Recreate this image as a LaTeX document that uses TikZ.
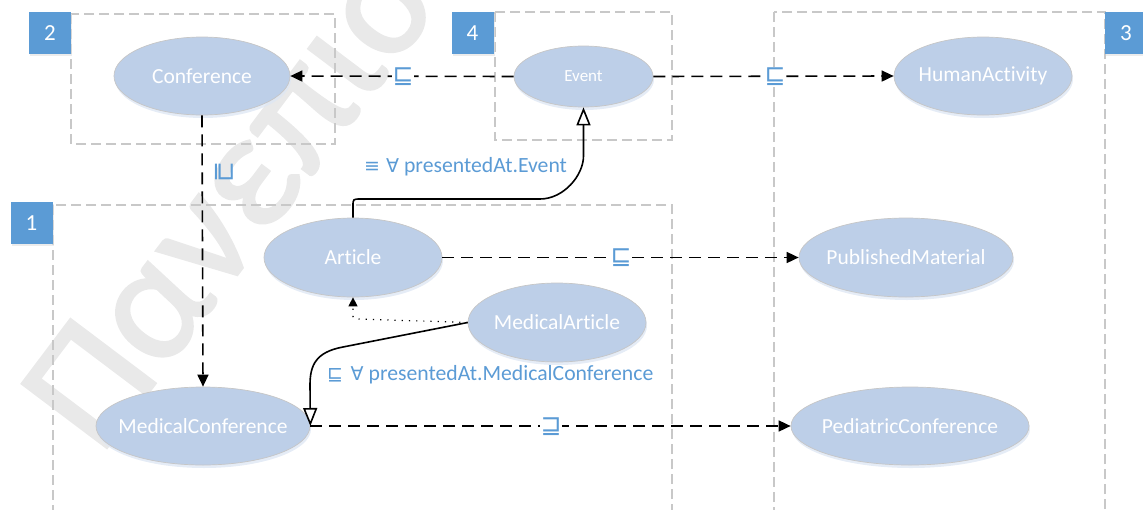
\documentclass[tikz,border=0pt]{standalone}
\usepackage{fontspec}
\setmainfont{Carlito}[Ligatures=NoCommon]
\newfontfamily\symfont{DejaVu Sans}
\newfontfamily\wmfont{Carlito}[FakeBold=1.5]
\usetikzlibrary{shapes.geometric,arrows.meta,shadows}

\definecolor{classfill}{RGB}{189,207,232}
\definecolor{classline}{RGB}{198,198,198}
\definecolor{classshadow}{RGB}{222,231,244}
\definecolor{badgeblue}{RGB}{91,155,213}
\definecolor{labelblue}{RGB}{91,155,213}
\definecolor{groupline}{RGB}{200,200,200}
\definecolor{wmgray}{RGB}{233,233,233}

\newcommand{\cname}[1]{\makebox[0pt]{#1}}

\tikzset{
  classnode/.style={ellipse, inner sep=0pt, fill=classfill, draw=classline, line width=0.7pt,
    text=white, font=\fontsize{21.5}{24}\selectfont,
    drop shadow={fill=classshadow, opacity=0.8, shadow xshift=1pt, shadow yshift=-3pt}},
  badge/.style={rectangle, inner sep=0pt, minimum width=42pt, minimum height=42pt,
    fill=badgeblue, text=white, font=\fontsize{23}{25}\selectfont,
    drop shadow={fill=black!12, opacity=0.6, shadow xshift=1pt, shadow yshift=-2pt}},
  groupbox/.style={draw=groupline, line width=1.3pt, dash pattern=on 10pt off 5pt},
  subarrow/.style={line width=1.6pt, dash pattern=on 12pt off 7pt,
    -{Triangle[length=12pt,width=11pt]}},
  restrarrow/.style={line width=1.6pt, -{Triangle[open,length=18pt,width=14pt,fill=white]}},
  instarrow/.style={line width=1.2pt, dash pattern=on 1.2pt off 6pt,
    -{Triangle[length=9pt,width=9pt]}},
  relsym/.style={text=labelblue, font=\symfont\fontsize{25}{27}\selectfont, inner sep=0.5pt},
  rellabel/.style={text=labelblue, font=\fontsize{21.7}{24}\selectfont, inner sep=0pt}
}

\begin{document}
\begin{tikzpicture}[x=1pt,y=-1pt]
\useasboundingbox (0,0) rectangle (1143,509);
\clip (0,0) rectangle (1143,509);

% watermark
\node[anchor=base west, rotate=53, text=wmgray, inner sep=0pt,
      font=\wmfont\fontsize{166}{166}\selectfont] (wm) at (100,457) {Πανεπιστήμιο};

% ontology modules
\draw[groupbox] (71,14) rectangle (335,144);
\draw[groupbox] (495,12) rectangle (672,140);
\draw[groupbox] (774,12) rectangle (1105,530);
\draw[groupbox] (53,205) rectangle (672,530);

\node[badge] (b2) at (50,33) {2};
\node[badge] (b4) at (472.5,33) {4};
\node[badge] (b3) at (1126,33) {3};
\node[badge] (b1) at (31.5,223) {1};

% classes
\node[classnode, minimum width=176pt, minimum height=78pt] (conf) at (202,76) {\cname{Conference}};
\node[classnode, minimum width=139pt, minimum height=61pt, font=\fontsize{17}{20}\selectfont] (ev) at (583.5,76.5) {\cname{Event}};
\node[classnode, minimum width=178pt, minimum height=78pt] (ha) at (983,76) {\cname{HumanActivity}};
\node[classnode, minimum width=178pt, minimum height=79pt] (art) at (353,257.5) {\cname{Article}};
\node[classnode, minimum width=178pt, minimum height=79pt] (ma) at (557,322.5) {\cname{MedicalArticle}};
\node[classnode, minimum width=214pt, minimum height=78pt] (mc) at (203,426) {\cname{MedicalConference}};
\node[classnode, minimum width=214pt, minimum height=79pt] (pm) at (906,257.5) {\cname{PublishedMaterial}};
\node[classnode, minimum width=238pt, minimum height=78pt] (pc) at (910,426) {\cname{PediatricConference}};

% subsumption links
\draw[subarrow] (ev.west) -- (conf.east);
\draw[subarrow] (ev.east) -- (ha.west);
\draw[subarrow] (conf.south) -- (mc.north);
\draw[subarrow] (art.east) -- (pm.west);
\draw[subarrow] (mc.east) -- (pc.west);

\node[relsym, fill=white] (s1) at (403,77) {⊑};
\node[relsym, fill=white] (s2) at (775,77) {⊑};
\node[relsym, rotate=-90] (s3) at (224.5,171.5) {⊒};
\node[relsym, fill=white] (s4) at (621,258) {⊑};
\node[relsym, fill=white] (s5) at (551,427) {⊒};

% property restrictions
\draw[restrarrow] (art.north) -- (353,206) .. controls (353,199) .. (361,199)
  -- (540,199) .. controls (563.7,199) and (583.5,175.3) .. (583.5,156) -- (ev.south);
\draw[restrarrow] (ma.west) -- (343,347) .. controls (316,352) and (310,365) .. (310,385) -- (mc.east);

% instance-of link
\draw[instarrow] (ma.west) -- (358,319) .. controls (353,318.5) .. (353,314) -- (art.south);

\node[rellabel, anchor=west] (l1) at (364,167) {{\symfont\fontsize{19}{22}\selectfont ≡ ∀} presentedAt.Event};
\node[rellabel, anchor=west] (l2) at (327,375) {{\symfont\fontsize{19}{22}\selectfont ⊑\hspace{0.4em}∀} presentedAt.MedicalConference};
\end{tikzpicture}
\end{document}
